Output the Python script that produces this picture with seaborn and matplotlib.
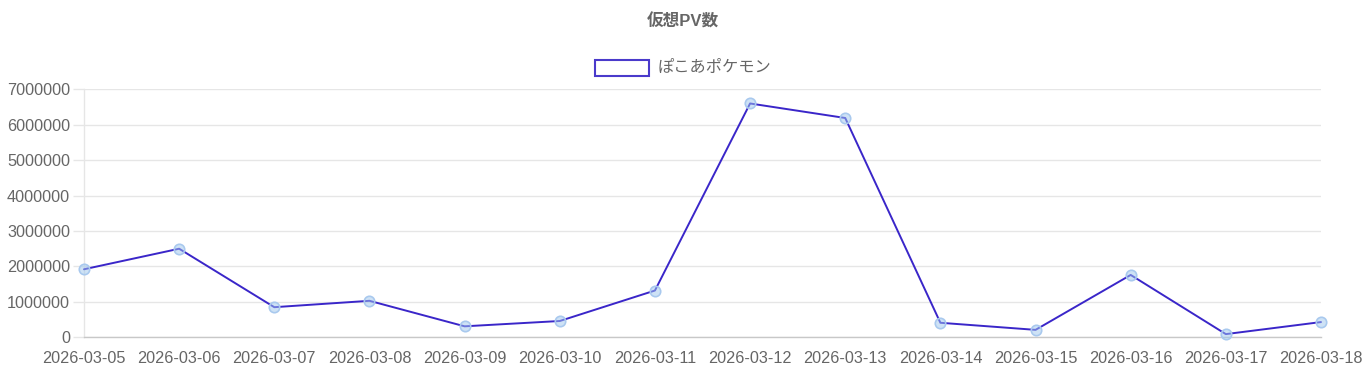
import matplotlib
matplotlib.use("Agg")
import matplotlib.pyplot as plt
import seaborn as sns
import pandas as pd
from matplotlib.patches import Rectangle

dates = ["2026-03-05", "2026-03-06", "2026-03-07", "2026-03-08", "2026-03-09",
         "2026-03-10", "2026-03-11", "2026-03-12", "2026-03-13", "2026-03-14",
         "2026-03-15", "2026-03-16", "2026-03-17", "2026-03-18"]
pv = [1920000, 2500000, 850000, 1030000, 310000, 460000, 1320000,
      6600000, 6190000, 410000, 210000, 1760000, 90000, 430000]
y_ticks = [0, 1000000, 2000000, 3000000, 4000000, 5000000, 6000000, 7000000]
series_name = "ぽこあポケモン"
title = "仮想PV数"

sns.set_theme(style="white")
plt.rcParams['font.family'] = ['Liberation Sans', 'Noto Sans CJK JP', 'DejaVu Sans']

line_color = "#3a26c9"
marker_face = (0.62, 0.78, 0.93, 0.5)
marker_edge = "#a9c9ee"
text_color = "#666666"
grid_color = "#e6e6e6"

df = pd.DataFrame({"date": dates, "pv": pv, "idx": range(len(dates))})

fig = plt.figure(figsize=(13.66, 3.77), dpi=100)
ax = fig.add_axes([84 / 1366, 1 - 337.3 / 377, (1321 - 84) / 1366, (337.3 - 89.3) / 377])

sns.lineplot(data=df, x="idx", y="pv", ax=ax, color=line_color, linewidth=1.4,
             marker="o", markersize=7.5, markerfacecolor=marker_face,
             markeredgecolor=marker_edge, markeredgewidth=1.2, clip_on=False,
             zorder=3)

ax.set_xlim(0, len(dates) - 1)
ax.set_ylim(0, 7000000)
ax.set_xticks(range(len(dates)))
ax.set_xticklabels(dates)
ax.set_yticks(y_ticks)
ax.set_yticklabels([str(v) for v in y_ticks])
ax.set_xlabel("")
ax.set_ylabel("")

ax.yaxis.grid(True, color=grid_color, linewidth=1)
ax.xaxis.grid(False)
for side in ["top", "right"]:
    ax.spines[side].set_visible(False)
ax.spines["left"].set_color(grid_color)
ax.spines["left"].set_linewidth(1)
ax.spines["bottom"].set_color("#c8c8c8")
ax.spines["bottom"].set_linewidth(1)

ax.tick_params(axis="y", length=8, width=1, color=grid_color, pad=2,
               labelsize=11.7, labelcolor=text_color, left=True)
ax.tick_params(axis="x", length=0, pad=10, labelsize=11.7, labelcolor=text_color)

fig.text(0.5, 1 - 22 / 377, title, ha="center", va="center",
         fontsize=12, fontweight="bold", color=text_color)

# legend
fig.patches.append(Rectangle((595 / 1366, 1 - 76 / 377), 54 / 1366, 16 / 377,
                             transform=fig.transFigure, facecolor="white",
                             edgecolor="#4a3acb", linewidth=1.5))
fig.text(658 / 1366, 1 - 67.5 / 377, series_name, ha="left", va="center",
         fontsize=11.7, color=text_color)

fig.savefig("out.png", dpi=100, facecolor="white")
